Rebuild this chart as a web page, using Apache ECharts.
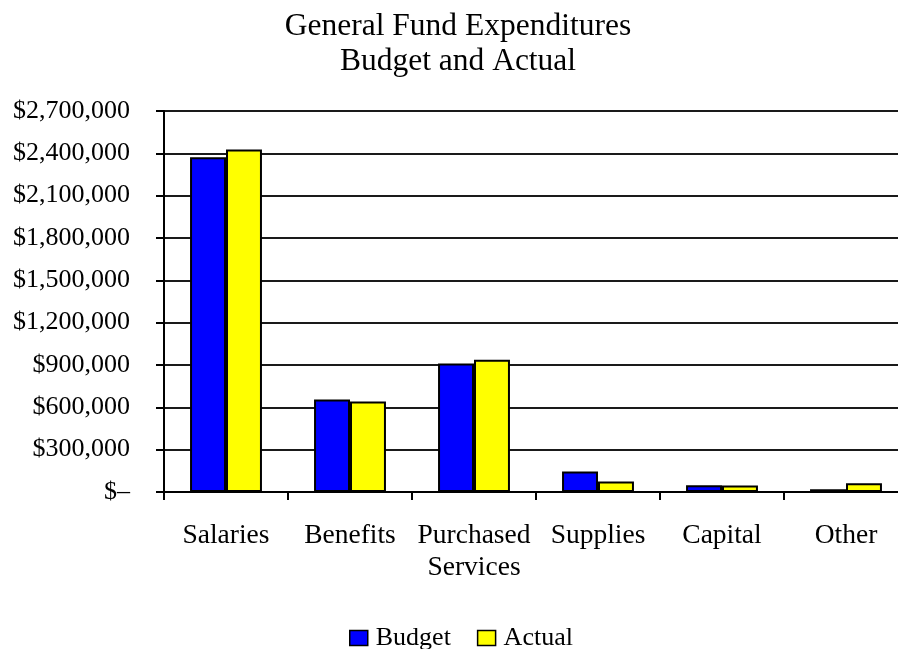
<!DOCTYPE html>
<html>
<head>
<meta charset="utf-8">
<script src="https://cdn.jsdelivr.net/npm/echarts@6/dist/echarts.min.js"></script>
<style>
  html, body { margin: 0; padding: 0; background: #fff; overflow: hidden; }
  /* the plot runs a little past the right edge of the window, as in the original */
  #chart { width: 908px; height: 649px; }
</style>
</head>
<body>
<div id="chart"></div>
<script>
// data
var categories = ['Salaries', 'Benefits', 'Purchased\nServices', 'Supplies', 'Capital', 'Other'];
var budget = [2373000, 656000, 911000, 145000, 48000, 19000];
var actual = [2427000, 642000, 937000, 74000, 46000, 62000];
var yMin = 0, yMax = 2700000, yStep = 300000;

var serif = '"Liberation Serif", "DejaVu Serif", serif';

var chart = echarts.init(document.getElementById('chart'));
var option = {
  animation: false,
  backgroundColor: '#fff',
  title: {
    text: 'General Fund Expenditures\nBudget and Actual',
    left: 458,
    top: 9,
    padding: 0,
    textAlign: 'center',
    textStyle: {
      fontFamily: serif,
      fontSize: 31.5,
      fontWeight: 'normal',
      color: '#000',
      lineHeight: 35,
      align: 'center'
    }
  },
  legend: {
    left: 349,
    top: 625,
    padding: 0,
    itemWidth: 18,
    itemHeight: 15,
    itemGap: 26,
    icon: 'rect',
    itemStyle: { borderColor: '#000', borderWidth: 1.5 },
    textStyle: { fontFamily: serif, fontSize: 26, color: '#000', padding: [0, 0, 0, 3] },
    data: ['Budget', 'Actual']
  },
  grid: { left: 164, right: 0, top: 111, bottom: 157 },
  xAxis: {
    type: 'category',
    data: categories,
    axisLine: { lineStyle: { color: '#000', width: 2 } },
    axisTick: { show: true, length: 8, lineStyle: { color: '#000', width: 2 } },
    axisLabel: {
      interval: 0,
      margin: 28,
      fontFamily: serif,
      fontSize: 27.5,
      lineHeight: 32,
      color: '#000'
    }
  },
  yAxis: {
    type: 'value',
    min: yMin,
    max: yMax,
    interval: yStep,
    axisLine: { show: true, lineStyle: { color: '#000', width: 2 } },
    axisTick: { show: true, length: 8, lineStyle: { color: '#000', width: 2 } },
    splitLine: { show: true, lineStyle: { color: '#1a1a1a', width: 2 } },
    axisLabel: {
      margin: 34,
      fontFamily: serif,
      fontSize: 26,
      color: '#000',
      formatter: function (v) {
        if (v === 0) return '$\u2013';
        return '$' + v.toString().replace(/\B(?=(\d{3})+(?!\d))/g, ',');
      }
    }
  },
  series: [
    {
      name: 'Budget',
      type: 'bar',
      data: budget,
      barGap: '0%',
      barCategoryGap: '42%',
      itemStyle: { color: '#0000ff', borderColor: '#000', borderWidth: 2 }
    },
    {
      name: 'Actual',
      type: 'bar',
      data: actual,
      barGap: '0%',
      barCategoryGap: '42%',
      itemStyle: { color: '#ffff00', borderColor: '#000', borderWidth: 2 }
    }
  ]
};
chart.setOption(option);
</script>
</body>
</html>
